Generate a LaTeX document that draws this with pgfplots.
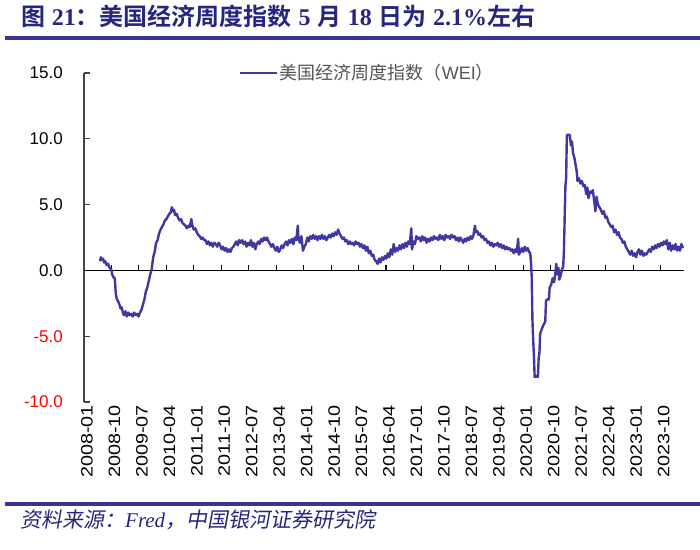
\documentclass[border=0pt]{standalone}
\usepackage{pgfplots}
\pgfplotsset{compat=1.18}
\usepackage{fontspec}
\setmainfont{Liberation Sans}
\newfontfamily\cjk[BoldFont={Noto Sans CJK SC Bold}]{Noto Sans CJK SC}
\newfontfamily\cjkit[FakeSlant=0.18]{Noto Sans CJK SC}
\newfontfamily\tickfont[FakeStretch=1.2]{Liberation Sans}
\newfontfamily\titlenum{Liberation Serif}
\definecolor{titleblue}{HTML}{262680}
\definecolor{rulecol}{HTML}{3A3590}
\definecolor{linecol}{HTML}{4038A0}
\definecolor{axgray}{HTML}{444444}
\definecolor{leggray}{HTML}{555555}
\newcommand\T[1]{{\cjk\bfseries #1}}
\newcommand\N[1]{{\titlenum\bfseries #1}}
\begin{document}
\begin{tikzpicture}
\useasboundingbox (0,0) rectangle (700pt,-549pt);
\node[anchor=west, text=titleblue, font=\fontsize{24}{24}\selectfont, inner sep=0pt] at (21pt,-16pt)
  {\T{图} \N{21}\T{：美国经济周度指数} \N{5} \T{月} \N{18} \T{日为} \N{2.1\%}\T{左右}};
\draw[rulecol, line width=4pt] (5pt,-38pt) -- (700pt,-38pt);
\draw[rulecol, line width=4.5pt] (5pt,-504pt) -- (700pt,-504pt);
\node[anchor=west, text=titleblue, font=\fontsize{21}{21}\selectfont, inner sep=0pt] at (20pt,-520pt)
  {{\cjkit 资料来源：}{\titlenum\itshape Fred}{\cjkit ，中国银河证券研究院}};
\begin{axis}[
  at={(84pt,-402pt)}, anchor=south west,
  scale only axis, width=600pt, height=329pt,
  x coord trafo/.code={\pgfmathparse{#1-2008}},
  x coord inv trafo/.code={\pgfmathparse{#1+2008}},
  xmin=2008, xmax=2024.39, ymin=-10, ymax=15,
  axis y line=left, axis x line=bottom,
  axis line style={-},
  x axis line style={draw=none},
  y axis line style={axgray, line width=1.3pt},
  xtick={2008,2008.75,2009.5,2010.25,2011,2011.75,2012.5,2013.25,2014,2014.75,2015.5,2016.25,2017,2017.75,2018.5,2019.25,2020,2020.75,2021.5,2022.25,2023,2023.75},
  xticklabels={2008-01,2008-10,2009-07,2010-04,2011-01,2011-10,2012-07,2013-04,2014-01,2014-10,2015-07,2016-04,2017-01,2017-10,2018-07,2019-04,2020-01,2020-10,2021-07,2022-04,2023-01,2023-10},
  x tick style={draw=none},
  x tick label style={rotate=90, anchor=east, inner sep=0pt, yshift=-3pt, font=\tickfont\fontsize{16.5}{16.5}\selectfont},
  ytick={-10,-5,0,5,10,15},
  yticklabels={\textcolor{red}{-10.0},\textcolor{red}{-5.0},0.0,5.0,10.0,15.0},
  y tick style={axgray, line width=1.2pt},
  ytick align=inside,
  major tick length=6pt,
  y tick label style={anchor=east, inner sep=0pt, xshift=-21pt, font=\fontsize{17}{17}\selectfont},
  clip=false,
  legend style={at={(axis description cs:0.257,1.0)}, anchor=west, draw=none, fill=none, inner sep=0pt,
     font=\fontsize{18}{18}\selectfont\color{leggray}},
  legend image code/.code={\draw[#1] (0pt,0pt) -- (37pt,0pt);},
]
\draw[black, line width=1.3pt] (axis cs:2008,0) -- (axis cs:2024.39,0);
\pgfplotsinvokeforeach{2008.75,2009.5,2010.25,2011,2011.75,2012.5,2013.25,2014,2014.75,2015.5,2016.25,2017,2017.75,2018.5,2019.25,2020,2020.75,2021.5,2022.25,2023,2023.75}{
  \draw[black, line width=1.1pt] (axis cs:#1,0) -- ++(0pt,5pt);
}
\addplot[linecol, line width=2.4pt, line join=round] coordinates {
(2008.44,0.7) (2008.46,1.0) (2008.49,0.8) (2008.52,0.9) (2008.55,0.6) (2008.58,0.7) (2008.62,0.4) (2008.66,0.5)
(2008.70,0.2) (2008.74,0.1) (2008.77,-0.3) (2008.80,-0.5) (2008.84,-0.6) (2008.87,-1.8) (2008.90,-2.2) (2008.94,-2.4)
(2008.97,-2.6) (2009.00,-2.9) (2009.03,-2.8) (2009.06,-3.2) (2009.09,-3.4) (2009.13,-3.1) (2009.17,-3.5) (2009.21,-3.2)
(2009.25,-3.4) (2009.29,-3.3) (2009.33,-3.5) (2009.37,-3.2) (2009.41,-3.4) (2009.45,-3.3) (2009.49,-3.5) (2009.53,-3.2)
(2009.57,-3.0) (2009.61,-2.6) (2009.65,-2.2) (2009.69,-1.6) (2009.73,-1.3) (2009.77,-0.8) (2009.81,-0.3) (2009.85,0.1)
(2009.89,1.0) (2009.93,1.4) (2009.97,2.1) (2010.01,2.3) (2010.05,2.8) (2010.09,3.1) (2010.13,3.3) (2010.17,3.5)
(2010.21,3.8) (2010.25,3.9) (2010.29,4.1) (2010.33,4.3) (2010.37,4.4) (2010.40,4.8) (2010.43,4.5) (2010.46,4.6)
(2010.49,4.2) (2010.53,4.3) (2010.57,4.0) (2010.61,3.8) (2010.65,3.9) (2010.69,3.6) (2010.73,3.5) (2010.77,3.4)
(2010.81,3.2) (2010.85,3.4) (2010.89,3.3) (2010.93,3.9) (2010.96,3.4) (2011.00,3.1) (2011.04,3.2) (2011.08,2.9)
(2011.12,2.7) (2011.16,2.6) (2011.20,2.4) (2011.24,2.5) (2011.28,2.3) (2011.32,2.3) (2011.36,2.0) (2011.40,2.2)
(2011.44,1.9) (2011.48,2.1) (2011.52,1.8) (2011.56,2.1) (2011.60,2.0) (2011.64,1.8) (2011.68,2.1) (2011.72,1.9)
(2011.76,1.6) (2011.80,1.8) (2011.84,1.5) (2011.88,1.7) (2011.92,1.4) (2011.96,1.6) (2012.00,1.4) (2012.04,1.7)
(2012.08,1.8) (2012.12,2.0) (2012.16,2.2) (2012.20,1.9) (2012.24,2.3) (2012.28,2.1) (2012.32,2.3) (2012.36,2.0)
(2012.40,2.2) (2012.44,1.8) (2012.48,2.1) (2012.52,1.9) (2012.56,2.3) (2012.60,1.8) (2012.64,2.1) (2012.68,1.6)
(2012.72,2.0) (2012.76,2.2) (2012.80,2.0) (2012.84,2.4) (2012.88,2.2) (2012.92,2.5) (2012.96,2.3) (2013.00,2.5)
(2013.04,2.2) (2013.08,2.0) (2013.12,1.8) (2013.16,2.0) (2013.20,1.7) (2013.24,1.5) (2013.28,1.8) (2013.32,1.4)
(2013.36,1.6) (2013.40,1.9) (2013.44,1.7) (2013.48,2.0) (2013.52,2.2) (2013.56,1.9) (2013.60,2.3) (2013.64,2.1)
(2013.68,2.4) (2013.72,2.0) (2013.76,2.5) (2013.80,2.3) (2013.84,3.4) (2013.86,2.4) (2013.90,2.1) (2013.94,2.6)
(2013.98,1.5) (2014.02,1.8) (2014.06,2.0) (2014.10,2.5) (2014.14,2.2) (2014.18,2.6) (2014.22,2.4) (2014.26,2.7)
(2014.30,2.4) (2014.34,2.6) (2014.38,2.3) (2014.42,2.6) (2014.46,2.4) (2014.50,2.7) (2014.54,2.4) (2014.58,2.6)
(2014.62,2.3) (2014.66,2.5) (2014.70,2.7) (2014.74,2.5) (2014.78,2.8) (2014.82,2.6) (2014.86,2.9) (2014.90,2.7)
(2014.94,3.1) (2014.98,2.8) (2015.02,2.6) (2015.06,2.4) (2015.10,2.5) (2015.14,2.2) (2015.18,2.3) (2015.22,2.0)
(2015.26,2.2) (2015.30,2.0) (2015.34,2.1) (2015.38,1.9) (2015.42,2.2) (2015.46,2.0) (2015.50,2.1) (2015.54,1.8)
(2015.58,2.0) (2015.62,1.7) (2015.66,1.9) (2015.70,1.5) (2015.74,1.8) (2015.78,1.3) (2015.82,1.5) (2015.86,1.1)
(2015.90,1.2) (2015.94,0.8) (2015.98,0.7) (2016.02,0.5) (2016.06,0.9) (2016.10,0.6) (2016.14,1.0) (2016.18,0.8)
(2016.22,1.1) (2016.26,0.9) (2016.30,1.3) (2016.34,1.0) (2016.38,1.6) (2016.42,1.2) (2016.46,2.0) (2016.50,1.4)
(2016.54,1.7) (2016.58,1.5) (2016.62,1.9) (2016.66,1.6) (2016.70,2.0) (2016.74,1.7) (2016.78,2.1) (2016.82,1.8)
(2016.86,2.2) (2016.90,2.0) (2016.94,3.2) (2016.96,1.6) (2017.00,2.2) (2017.04,2.0) (2017.08,2.6) (2017.12,2.4)
(2017.16,2.5) (2017.20,2.2) (2017.24,2.6) (2017.28,2.3) (2017.32,2.5) (2017.36,2.1) (2017.40,2.4) (2017.44,2.2)
(2017.48,2.5) (2017.52,2.3) (2017.56,2.6) (2017.60,2.4) (2017.64,2.5) (2017.68,2.3) (2017.72,2.7) (2017.76,2.4)
(2017.80,2.6) (2017.84,2.3) (2017.88,2.7) (2017.92,2.5) (2017.96,2.6) (2018.00,2.4) (2018.04,2.7) (2018.08,2.5)
(2018.12,2.6) (2018.16,2.3) (2018.20,2.5) (2018.24,2.2) (2018.28,2.5) (2018.32,2.3) (2018.36,2.1) (2018.40,2.4)
(2018.44,2.2) (2018.48,2.5) (2018.52,2.3) (2018.56,2.6) (2018.60,2.4) (2018.64,2.7) (2018.68,3.4) (2018.70,2.9)
(2018.74,3.0) (2018.78,2.7) (2018.82,2.8) (2018.86,2.5) (2018.90,2.6) (2018.94,2.3) (2018.98,2.4) (2019.02,2.1)
(2019.06,2.2) (2019.10,1.9) (2019.14,2.1) (2019.18,1.8) (2019.22,2.0) (2019.26,1.9) (2019.30,2.1) (2019.34,1.8)
(2019.38,2.0) (2019.42,1.7) (2019.46,1.9) (2019.50,1.6) (2019.54,1.8) (2019.58,1.6) (2019.62,1.7) (2019.66,1.5)
(2019.70,1.6) (2019.74,1.3) (2019.78,1.6) (2019.82,1.4) (2019.86,2.4) (2019.88,1.2) (2019.92,1.4) (2019.96,1.7)
(2020.00,1.4) (2020.04,1.8) (2020.08,1.5) (2020.12,1.7) (2020.16,1.4) (2020.19,1.3) (2020.21,0.6) (2020.23,-0.5)
(2020.25,-3.8) (2020.27,-5.3) (2020.29,-6.5) (2020.31,-8.1) (2020.34,-8.1) (2020.37,-8.0) (2020.40,-8.1) (2020.42,-6.6)
(2020.44,-6.3) (2020.46,-4.8) (2020.50,-4.5) (2020.54,-4.2) (2020.58,-4.0) (2020.60,-3.9) (2020.62,-2.3) (2020.66,-2.2)
(2020.70,-2.2) (2020.72,-1.3) (2020.76,-1.1) (2020.80,-0.6) (2020.84,-0.9) (2020.88,-0.1) (2020.90,0.5) (2020.92,-0.3)
(2020.96,0.2) (2020.98,-0.7) (2021.02,-0.4) (2021.06,0.1) (2021.09,0.3) (2021.11,1.5) (2021.13,4.0) (2021.15,6.4)
(2021.17,7.0) (2021.19,10.3) (2021.23,10.3) (2021.27,10.3) (2021.30,9.5) (2021.33,9.8) (2021.36,8.9) (2021.40,8.5)
(2021.43,8.0) (2021.46,7.5) (2021.48,6.8) (2021.52,7.0) (2021.56,6.6) (2021.60,6.8) (2021.64,6.4) (2021.68,6.5)
(2021.72,5.8) (2021.75,6.3) (2021.78,5.5) (2021.82,6.0) (2021.86,5.9) (2021.90,6.1) (2021.94,5.2) (2021.97,4.5)
(2022.00,5.6) (2022.04,5.0) (2022.08,4.8) (2022.12,4.6) (2022.16,4.3) (2022.20,4.5) (2022.24,4.0) (2022.28,4.1)
(2022.32,3.7) (2022.36,3.5) (2022.40,3.3) (2022.44,3.4) (2022.48,2.9) (2022.52,3.1) (2022.56,2.7) (2022.60,2.9)
(2022.64,2.5) (2022.68,2.4) (2022.72,2.1) (2022.76,2.2) (2022.80,1.8) (2022.84,1.6) (2022.88,1.4) (2022.92,1.2)
(2022.96,1.5) (2023.00,1.1) (2023.04,1.3) (2023.08,1.0) (2023.12,1.4) (2023.16,1.6) (2023.20,1.2) (2023.24,1.5)
(2023.28,1.1) (2023.32,1.3) (2023.36,1.2) (2023.40,1.4) (2023.44,1.6) (2023.48,1.4) (2023.52,1.8) (2023.56,1.6)
(2023.60,1.9) (2023.64,1.7) (2023.68,2.0) (2023.72,1.8) (2023.76,2.1) (2023.80,1.9) (2023.84,2.2) (2023.88,2.0)
(2023.92,2.3) (2023.96,1.6) (2024.00,2.1) (2024.04,1.5) (2024.08,1.9) (2024.12,1.6) (2024.16,2.0) (2024.20,1.5)
(2024.24,1.8) (2024.28,1.5) (2024.32,2.0) (2024.36,1.7)
};
\addlegendentry{{\cjk 美国经济周度指数（}WEI{\cjk ）}}
\end{axis}
\end{tikzpicture}
\end{document}
